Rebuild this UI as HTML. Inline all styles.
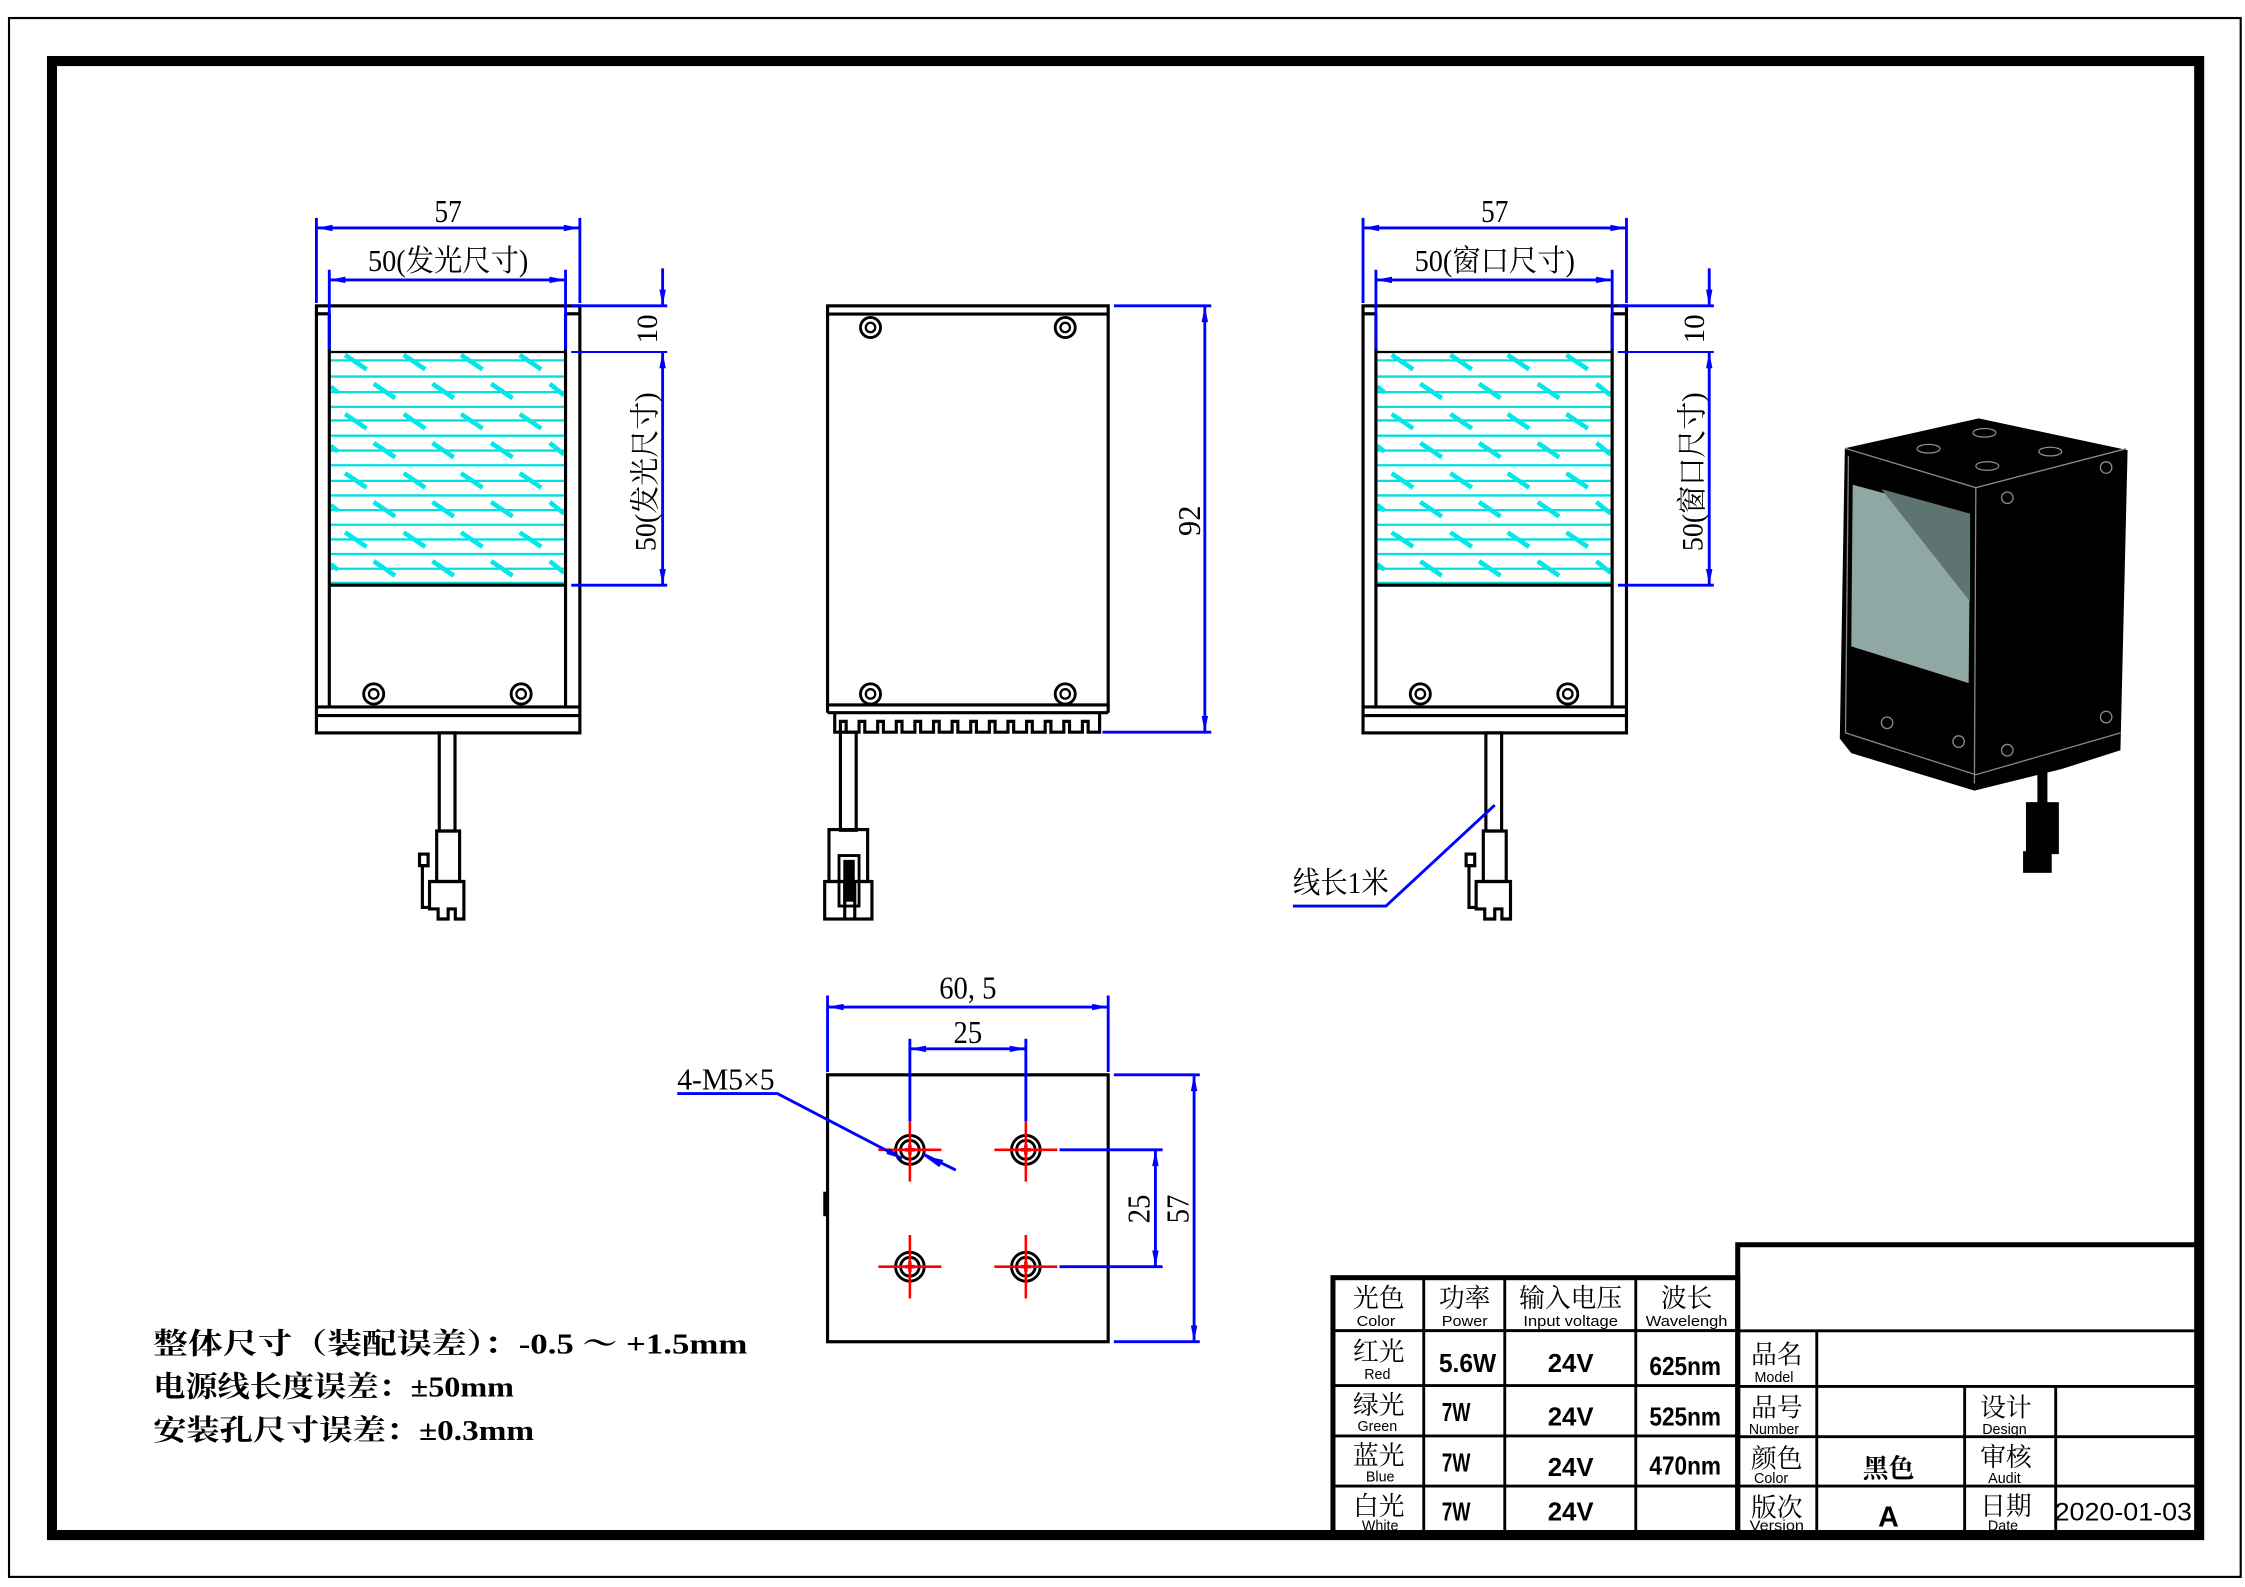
<!DOCTYPE html>
<html><head><meta charset="utf-8"><style>
html,body{margin:0;padding:0;background:#fff;}
svg{display:block;}
text{font-family:"Liberation Serif","Noto Serif CJK SC",serif;}
.s{font-family:"Liberation Sans","Noto Sans CJK SC",sans-serif;}
</style></head><body>
<svg width="2245" height="1587" viewBox="0 0 1568 1100" preserveAspectRatio="none" xmlns="http://www.w3.org/2000/svg">
<defs>
<marker id="a" viewBox="0 0 10 4" refX="10" refY="2" markerWidth="13" markerHeight="4.5" orient="auto-start-reverse" markerUnits="userSpaceOnUse"><path d="M0,0L10,2L0,4z" fill="#0000ff"/></marker>
<g id="screw"><circle r="7" fill="none" stroke="#000" stroke-width="2"/><circle r="3.3" fill="none" stroke="#000" stroke-width="1.6"/></g>
<g id="panel">
 <g stroke="#00e0e0" stroke-width="1.6">
  <line x1="231" y1="249.8" x2="394" y2="249.8"/><line x1="231" y1="261" x2="394" y2="261"/>
  <line x1="231" y1="271.8" x2="394" y2="271.8"/><line x1="231" y1="282" x2="394" y2="282"/>
  <line x1="231" y1="291.4" x2="394" y2="291.4"/><line x1="231" y1="302" x2="394" y2="302"/>
  <line x1="231" y1="312.3" x2="394" y2="312.3"/><line x1="231" y1="322.5" x2="394" y2="322.5"/>
  <line x1="231" y1="333.3" x2="394" y2="333.3"/><line x1="231" y1="343.4" x2="394" y2="343.4"/>
  <line x1="231" y1="353.6" x2="394" y2="353.6"/><line x1="231" y1="363.7" x2="394" y2="363.7"/>
  <line x1="231" y1="373.9" x2="394" y2="373.9"/><line x1="231" y1="384" x2="394" y2="384"/>
  <line x1="231" y1="394.2" x2="394" y2="394.2"/><line x1="231" y1="404" x2="394" y2="404"/>
 </g>
 <g stroke="#00e8e8" stroke-width="3.2">
  <path d="M241,246l15,10M282,246l15,10M322,246l15,10M363,246l15,10"/>
  <path d="M261,266l15,10M302,266l15,10M343,266l15,10M384,266l10,8M231,268l5,4"/>
  <path d="M241,287l15,10M282,287l15,10M322,287l15,10M363,287l15,10"/>
  <path d="M261,307l15,10M302,307l15,10M343,307l15,10M384,307l10,8M231,309l5,4"/>
  <path d="M241,328l15,10M282,328l15,10M322,328l15,10M363,328l15,10"/>
  <path d="M261,348l15,10M302,348l15,10M343,348l15,10M384,348l10,8M231,350l5,4"/>
  <path d="M241,369l15,10M282,369l15,10M322,369l15,10M363,369l15,10"/>
  <path d="M261,389l15,10M302,389l15,10M343,389l15,10M384,389l10,8M231,391l5,4"/>
 </g>
</g>
<g id="sideview">
 <use href="#panel"/>
 <g fill="none" stroke="#000" stroke-width="2.2">
  <rect x="221" y="212" width="184" height="296"/>
  <line x1="221" y1="217.5" x2="230" y2="217.5"/><line x1="395" y1="217.5" x2="405" y2="217.5"/>
  <line x1="230" y1="217.5" x2="230" y2="490"/><line x1="395" y1="217.5" x2="395" y2="490"/>
  <line x1="230" y1="244" x2="395" y2="244" stroke-width="1.6"/>
  <line x1="230" y1="405.6" x2="395" y2="405.6"/>
  <line x1="221" y1="490" x2="405" y2="490"/><line x1="221" y1="496" x2="405" y2="496"/>
  <rect x="306.8" y="508" width="11" height="68"/>
  <rect x="305" y="576" width="16" height="35"/>
  <path d="M300,611H324V637H318V630H313V637H306V630H300Z"/>
  <path d="M300,600H295V629H300"/><rect x="293" y="592" width="6" height="8"/>
 </g>
 <use href="#screw" x="261" y="481"/><use href="#screw" x="364" y="481"/>
 <g stroke="#0000ff" stroke-width="2" fill="none">
  <line x1="221" y1="151" x2="221" y2="210"/><line x1="405" y1="151" x2="405" y2="210"/>
  <line x1="221" y1="158" x2="405" y2="158" marker-start="url(#a)" marker-end="url(#a)"/>
  <line x1="230" y1="187" x2="230" y2="242"/><line x1="395" y1="187" x2="395" y2="242"/>
  <line x1="230" y1="194" x2="395" y2="194" marker-start="url(#a)" marker-end="url(#a)"/>
  <line x1="399" y1="212" x2="466" y2="212"/><line x1="399" y1="244" x2="466" y2="244" stroke-width="1.4"/>
  <line x1="399" y1="405.6" x2="466" y2="405.6"/>
  <line x1="462.8" y1="186" x2="462.8" y2="212" marker-end="url(#a)"/>
  <line x1="462.8" y1="244" x2="462.8" y2="405.6" marker-start="url(#a)" marker-end="url(#a)"/>
 </g>
</g>
</defs>

<rect x="6.3" y="12.5" width="1558.7" height="1080.5" fill="none" stroke="#000" stroke-width="1.5"/>
<rect x="36.3" y="42.3" width="1499.7" height="1021.7" fill="none" stroke="#000" stroke-width="7"/>

<use href="#sideview"/>
<text x="313" y="154" font-size="22" text-anchor="middle" textLength="19" lengthAdjust="spacingAndGlyphs">57</text>
<text x="313" y="188" font-size="21" text-anchor="middle" textLength="112" lengthAdjust="spacingAndGlyphs">50(发光尺寸)</text>
<text transform="translate(459,228) rotate(-90)" font-size="21" text-anchor="middle" textLength="20" lengthAdjust="spacingAndGlyphs">10</text>
<text transform="translate(458,327) rotate(-90)" font-size="21" text-anchor="middle" textLength="110" lengthAdjust="spacingAndGlyphs">50(发光尺寸)</text>

<use href="#sideview" x="731"/>
<text x="1044" y="154" font-size="22" text-anchor="middle" textLength="19" lengthAdjust="spacingAndGlyphs">57</text>
<text x="1044" y="188" font-size="21" text-anchor="middle" textLength="112" lengthAdjust="spacingAndGlyphs">50(窗口尺寸)</text>
<text transform="translate(1190,228) rotate(-90)" font-size="21" text-anchor="middle" textLength="20" lengthAdjust="spacingAndGlyphs">10</text>
<text transform="translate(1189,327) rotate(-90)" font-size="21" text-anchor="middle" textLength="110" lengthAdjust="spacingAndGlyphs">50(窗口尺寸)</text>
<g stroke="#0000ff" stroke-width="2" fill="none"><path d="M1044,558L968,628H903"/></g>
<text x="903" y="619" font-size="21" textLength="67" lengthAdjust="spacingAndGlyphs">线长1米</text>

<g fill="none" stroke="#000" stroke-width="2.2">
 <rect x="578" y="212" width="196" height="276.6"/>
 <line x1="578" y1="217.7" x2="774" y2="217.7"/>
 <line x1="578" y1="494" x2="774" y2="494"/>
 <line x1="578" y1="488.6" x2="578" y2="494"/><line x1="774" y1="488.6" x2="774" y2="494"/>
 <path d="M583,494V507.5H587V500H591V507.5H600V500H604V507.5H613V500H617V507.5H626V500H630V507.5H639V500H643V507.5H652V500H656V507.5H665V500H669V507.5H678V500H682V507.5H691V500H695V507.5H704V500H708V507.5H717V500H721V507.5H730V500H734V507.5H743V500H747V507.5H756V500H760V507.5H768V494"/>
 <rect x="587" y="507.5" width="11" height="68"/>
 <rect x="579" y="575" width="27" height="36"/>
 <rect x="576" y="611" width="33" height="26"/>
 <line x1="590" y1="611" x2="590" y2="637"/><line x1="597" y1="611" x2="597" y2="637"/>
 <rect x="586" y="593" width="14" height="35" stroke-width="2"/>
</g>
<rect x="589" y="596" width="8" height="29" fill="#000"/>
<use href="#screw" x="608" y="227"/><use href="#screw" x="744" y="227"/>
<use href="#screw" x="608" y="481"/><use href="#screw" x="744" y="481"/>
<g stroke="#0000ff" stroke-width="2" fill="none">
 <line x1="778" y1="212" x2="846" y2="212"/><line x1="770" y1="507.5" x2="846" y2="507.5"/>
 <line x1="841.5" y1="212" x2="841.5" y2="507.5" marker-start="url(#a)" marker-end="url(#a)"/>
</g>
<text transform="translate(838,361) rotate(-90)" font-size="22" text-anchor="middle" textLength="21" lengthAdjust="spacingAndGlyphs">92</text>

<g fill="none" stroke="#000" stroke-width="2.2">
 <rect x="578" y="745" width="196" height="185"/>
</g>
<rect x="575" y="826" width="4" height="17" fill="#000"/>
<g fill="none" stroke="#000" stroke-width="2">
 <circle cx="635.5" cy="797" r="10"/><circle cx="635.5" cy="797" r="6.5"/>
 <circle cx="716.5" cy="797" r="10"/><circle cx="716.5" cy="797" r="6.5"/>
 <circle cx="635.5" cy="878" r="10"/><circle cx="635.5" cy="878" r="6.5"/>
 <circle cx="716.5" cy="878" r="10"/><circle cx="716.5" cy="878" r="6.5"/>
</g>
<g stroke="#ff0000" stroke-width="1.8">
 <path d="M613.5,797H657.5M635.5,775V819M694.5,797H738.5M716.5,775V819M613.5,878H657.5M635.5,856V900M694.5,878H738.5M716.5,856V900"/>
 <path d="M632,797h7M635.5,793.5v7M713,797h7M716.5,793.5v7M632,878h7M635.5,874.5v7M713,878h7M716.5,874.5v7" stroke-width="2.5"/>
</g>
<g stroke="#0000ff" stroke-width="2" fill="none">
 <line x1="578" y1="690" x2="578" y2="743"/><line x1="774" y1="690" x2="774" y2="743"/>
 <line x1="578" y1="698" x2="774" y2="698" marker-start="url(#a)" marker-end="url(#a)"/>
 <line x1="635.5" y1="720" x2="635.5" y2="777"/><line x1="716.5" y1="720" x2="716.5" y2="777"/>
 <line x1="635.5" y1="727" x2="716.5" y2="727" marker-start="url(#a)" marker-end="url(#a)"/>
 <line x1="778" y1="745" x2="838" y2="745"/><line x1="778" y1="930" x2="838" y2="930"/>
 <line x1="834" y1="745" x2="834" y2="930" marker-start="url(#a)" marker-end="url(#a)"/>
 <line x1="740" y1="797" x2="812" y2="797"/><line x1="740" y1="878" x2="812" y2="878"/>
 <line x1="807" y1="797" x2="807" y2="878" marker-start="url(#a)" marker-end="url(#a)"/>
 <path d="M473,758H543L630,803" marker-end="url(#a)"/>
 <line x1="667.6" y1="811" x2="645" y2="800"/>
</g>
<polygon points="645,801 659,804 656,809" fill="#0000ff"/>
<text x="676" y="692" font-size="22" text-anchor="middle" textLength="40" lengthAdjust="spacingAndGlyphs">60, 5</text>
<text x="676" y="723" font-size="22" text-anchor="middle" textLength="20" lengthAdjust="spacingAndGlyphs">25</text>
<text transform="translate(830,838) rotate(-90)" font-size="22" text-anchor="middle" textLength="20" lengthAdjust="spacingAndGlyphs">57</text>
<text transform="translate(803,838) rotate(-90)" font-size="22" text-anchor="middle" textLength="20" lengthAdjust="spacingAndGlyphs">25</text>
<text x="473" y="755" font-size="21" textLength="68" lengthAdjust="spacingAndGlyphs">4-M5×5</text>

<g font-size="20" font-weight="bold">
<text x="107" y="938" textLength="415" lengthAdjust="spacingAndGlyphs">整体尺寸（装配误差）：-0.5 ～ +1.5mm</text>
<text x="107" y="968" textLength="252" lengthAdjust="spacingAndGlyphs">电源线长度误差：±50mm</text>
<text x="107" y="998" textLength="266" lengthAdjust="spacingAndGlyphs">安装孔尺寸误差：±0.3mm</text>
</g>

<polygon points="1288.5,310.7 1382,290 1486,312 1481,520 1440,533 1379,548 1293,522 1285,512" fill="#000"/>
<g stroke="#8a8a8a" stroke-width="0.9" fill="none">
 <path d="M1288.5,310.7L1380,338L1485,311M1380,338L1379,543M1291,316L1289,508L1380,537L1481,508"/>
 <ellipse cx="1347" cy="311" rx="8" ry="3"/><ellipse cx="1386" cy="300" rx="8" ry="3"/>
 <ellipse cx="1432" cy="313" rx="8" ry="3"/><ellipse cx="1388" cy="323" rx="8" ry="3"/>
 <circle cx="1402" cy="345" r="4"/><circle cx="1471" cy="324" r="4"/><circle cx="1471" cy="497" r="4"/>
 <circle cx="1368" cy="514" r="4"/><circle cx="1318" cy="501" r="4"/><circle cx="1402" cy="520" r="4"/>
</g>
<polygon points="1294,336 1376,358 1375,473.5 1293,448" fill="#8fa8a4"/>
<polygon points="1314,339 1376,356 1376,417" fill="#5d7470"/>
<rect x="1423" y="535" width="7" height="22" fill="#000"/>
<rect x="1415" y="556" width="23" height="36" fill="#000"/>
<rect x="1413" y="590" width="20" height="15" fill="#000"/>

<g fill="none" stroke="#000" stroke-width="2">
 <rect x="931" y="885.6" width="282.7" height="178.4" stroke-width="3.5"/>
 <line x1="931" y1="922.3" x2="1213.7" y2="922.3"/>
 <line x1="931" y1="960.4" x2="1213.7" y2="960.4"/>
 <line x1="931" y1="995.3" x2="1213.7" y2="995.3"/>
 <line x1="931" y1="1030" x2="1213.7" y2="1030"/>
 <line x1="994.4" y1="885.6" x2="994.4" y2="1064"/>
 <line x1="1051" y1="885.6" x2="1051" y2="1064"/>
 <line x1="1142.5" y1="885.6" x2="1142.5" y2="1064"/>
 <path d="M1213.7,1064V862.8H1536" stroke-width="3.5"/>
 <line x1="1213.7" y1="922.4" x2="1536" y2="922.4"/>
 <line x1="1213.7" y1="961" x2="1536" y2="961"/>
 <line x1="1213.7" y1="995.8" x2="1536" y2="995.8"/>
 <line x1="1213.7" y1="1030" x2="1536" y2="1030"/>
 <line x1="1268.9" y1="922.4" x2="1268.9" y2="1064"/>
 <line x1="1372.2" y1="961" x2="1372.2" y2="1064"/>
 <line x1="1435.8" y1="961" x2="1435.8" y2="1064"/>
</g>
<g text-anchor="middle">
 <g font-size="18">
  <text x="963" y="906">光色</text><text x="1023" y="906">功率</text><text x="1097" y="906">输入电压</text><text x="1178" y="906">波长</text>
  <text x="963" y="943">红光</text><text x="963" y="980">绿光</text><text x="963" y="1015">蓝光</text><text x="963" y="1050">白光</text>
  <text x="1241" y="945">品名</text><text x="1241" y="982">品号</text><text x="1241" y="1017">颜色</text><text x="1241" y="1051">版次</text>
  <text x="1401" y="982">设计</text><text x="1401" y="1016">审核</text><text x="1401" y="1050">日期</text>
  <text x="1319" y="1024" font-weight="bold">黑色</text>
 </g>
 <g class="s" font-size="10">
  <text class="s" x="961" y="919" textLength="27" lengthAdjust="spacingAndGlyphs">Color</text>
  <text class="s" x="1023" y="919" textLength="32" lengthAdjust="spacingAndGlyphs">Power</text>
  <text class="s" x="1097" y="919" textLength="66" lengthAdjust="spacingAndGlyphs">Input voltage</text>
  <text class="s" x="1178" y="919" textLength="57" lengthAdjust="spacingAndGlyphs">Wavelengh</text>
  <text class="s" x="962" y="956">Red</text><text class="s" x="962" y="992">Green</text>
  <text class="s" x="964" y="1027">Blue</text><text class="s" x="964" y="1061">White</text>
  <text class="s" x="1239" y="958">Model</text><text class="s" x="1239" y="994" textLength="35" lengthAdjust="spacingAndGlyphs">Number</text>
  <text class="s" x="1237" y="1028">Color</text><text class="s" x="1241" y="1061" textLength="38" lengthAdjust="spacingAndGlyphs">Version</text>
  <text class="s" x="1400" y="994">Design</text><text class="s" x="1400" y="1028">Audit</text><text class="s" x="1399" y="1061">Date</text>
 </g>
 <g class="s" font-size="18" font-weight="bold">
  <text class="s" x="1025" y="951" textLength="40" lengthAdjust="spacingAndGlyphs">5.6W</text>
  <text class="s" x="1017" y="985" textLength="20" lengthAdjust="spacingAndGlyphs">7W</text>
  <text class="s" x="1017" y="1020" textLength="20" lengthAdjust="spacingAndGlyphs">7W</text>
  <text class="s" x="1017" y="1054" textLength="20" lengthAdjust="spacingAndGlyphs">7W</text>
  <text class="s" x="1097" y="951">24V</text><text class="s" x="1097" y="988">24V</text>
  <text class="s" x="1097" y="1023">24V</text><text class="s" x="1097" y="1054">24V</text>
  <text class="s" x="1177" y="953" textLength="50" lengthAdjust="spacingAndGlyphs">625nm</text>
  <text class="s" x="1177" y="988" textLength="50" lengthAdjust="spacingAndGlyphs">525nm</text>
  <text class="s" x="1177" y="1022" textLength="50" lengthAdjust="spacingAndGlyphs">470nm</text>
  <text class="s" x="1319" y="1058" font-size="20">A</text>
 </g>
 <text class="s" x="1483" y="1054" font-size="17" textLength="96" lengthAdjust="spacingAndGlyphs">2020-01-03</text>
</g>
</svg>
</body></html>
